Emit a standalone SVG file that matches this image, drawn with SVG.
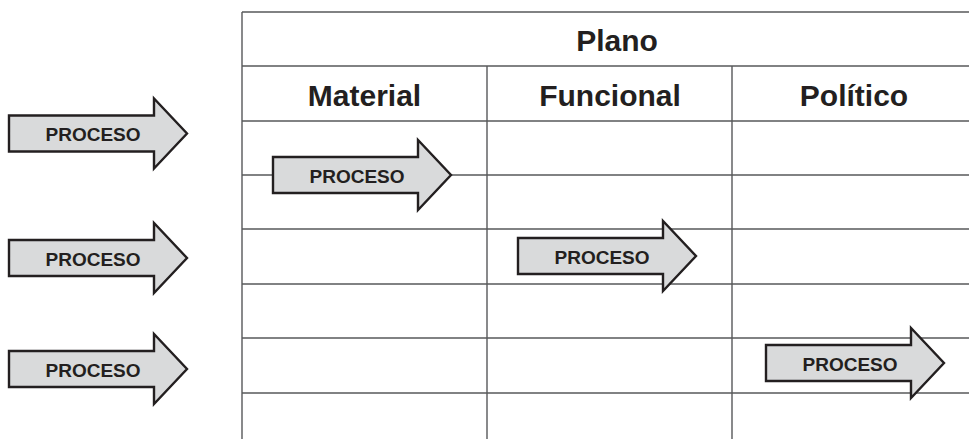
<svg xmlns="http://www.w3.org/2000/svg" width="969" height="439" viewBox="0 0 969 439">
  <style>
    .grid { stroke: #58595b; stroke-width: 1.4; fill: none; }
    .head { font-family: "Liberation Sans", Arial, sans-serif; font-weight: bold; font-size: 30px; fill: #231f20; text-anchor: middle; }
    .arrow { fill: #d9dadb; stroke: #231f20; stroke-width: 2.4; stroke-linejoin: miter; }
    .lbl { font-family: "Liberation Sans", Arial, sans-serif; font-weight: bold; font-size: 19px; fill: #231f20; text-anchor: middle; }
  </style>
  <defs>
    <!-- block arrow, origin at the left end of the shaft, vertically centred -->
    <path id="blockArrow" class="arrow" d="M0,-18 H145 V-35 L178,0 L145,35 V18 H0 Z"/>
  </defs>
  <rect width="969" height="439" fill="#ffffff"/>

  <!-- table grid -->
  <g id="table">
    <path class="grid" d="M242,12 H969 M242,66 H969 M242,121 H969 M242,175 H969 M242,229 H969 M242,284 H969 M242,338 H969 M242,393 H969"/>
    <path class="grid" d="M242,12 V439 M487,66 V439 M732,66 V439"/>
    <text class="head" x="617" y="51">Plano</text>
    <text class="head" x="364.5" y="106">Material</text>
    <text class="head" x="610" y="106">Funcional</text>
    <text class="head" x="854" y="106">Político</text>
  </g>

  <!-- process arrows outside the table -->
  <g id="proceso-1" transform="translate(9,133.5)">
    <use href="#blockArrow"/>
    <text class="lbl" x="84" y="7.5">PROCESO</text>
  </g>
  <g id="proceso-2" transform="translate(9,258)">
    <use href="#blockArrow"/>
    <text class="lbl" x="84" y="7.5">PROCESO</text>
  </g>
  <g id="proceso-3" transform="translate(9,369)">
    <use href="#blockArrow"/>
    <text class="lbl" x="84" y="7.5">PROCESO</text>
  </g>

  <!-- process arrows inside the table -->
  <g id="proceso-material" transform="translate(273,175)">
    <use href="#blockArrow"/>
    <text class="lbl" x="84" y="7.5">PROCESO</text>
  </g>
  <g id="proceso-funcional" transform="translate(518,256)">
    <use href="#blockArrow"/>
    <text class="lbl" x="84" y="7.5">PROCESO</text>
  </g>
  <g id="proceso-politico" transform="translate(766,363)">
    <use href="#blockArrow"/>
    <text class="lbl" x="84" y="7.5">PROCESO</text>
  </g>

  <g id="connectors"/>
</svg>
